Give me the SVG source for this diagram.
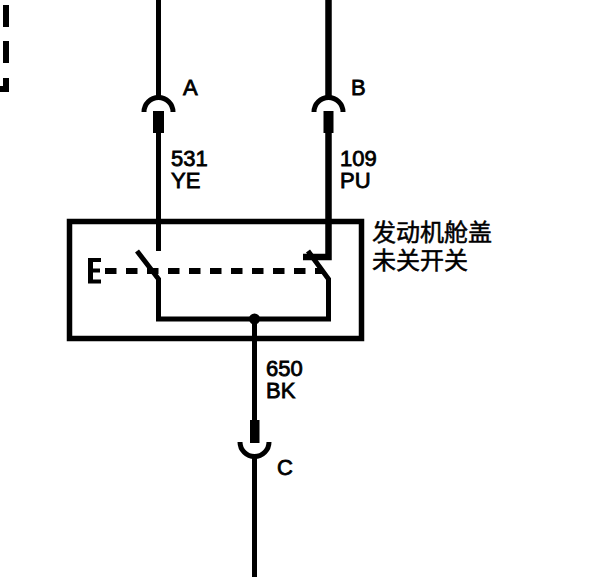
<svg xmlns="http://www.w3.org/2000/svg" width="600" height="577" viewBox="0 0 600 577">
<style>
.w{fill:none;stroke:#000;stroke-width:5}
.b{fill:#000}
.t{font-family:"Liberation Sans",Arial,sans-serif;font-size:22px;fill:#000;stroke:#000;stroke-width:.8}
.c{font-family:"Noto Sans CJK SC","Liberation Sans",sans-serif;font-size:24px;fill:#000;stroke:#000;stroke-width:.5}
</style>
<rect width="600" height="577" fill="#fff"/>
<g id="connectors">
<path class="w" d="M158.500 0V96M158.500 133V251"/>
<path class="w" style="stroke-width:6.500" d="M328.500 0V96M328.500 133V257H303"/>
<path class="w" d="M254.500 319V421M254.500 456V577"/>
<path class="w" d="M6 5V27M6 41V63" style="stroke-width:6"/>
<path class="b" d="M3 78H9V92H0V86H3Z"/>
</g>
<g id="connector-a">
<path class="w" d="M144 112A14.500 14.500 0 0 1 173 112"/>
<rect class="b" x="153" y="111" width="11" height="22"/>
<text class="t" x="183" y="95">A</text>
<text class="t"><tspan x="171" y="166">531</tspan><tspan x="171" y="188">YE</tspan></text>
</g>
<g id="connector-b">
<path class="w" d="M314 112A14.500 14.500 0 0 1 343 112"/>
<rect class="b" x="323.500" y="111" width="10" height="22"/>
<text class="t" x="351" y="95">B</text>
<text class="t"><tspan x="340" y="166">109</tspan><tspan x="340" y="188">PU</tspan></text>
</g>
<g id="switch">
<rect class="w" x="69.500" y="221.500" width="292" height="117" style="stroke-width:5.500"/>
<path class="w" d="M137 251L158.500 279V319H328.500V279L308 251"/>
<path class="w" style="stroke-width:6;stroke-dasharray:11.500 9.500" d="M105 271H323"/>
<path class="b" d="M88 258H101V262H93V268.500H100V272.500H93V279.500H101V283.500H88Z"/>
<circle class="b" cx="254.500" cy="319" r="5.500"/>
<text class="c"><tspan x="372" y="241">发动机舱盖</tspan><tspan x="372" y="269">未关开关</tspan></text>
</g>
<g id="connector-c">
<path class="w" d="M240 442A14.500 14.500 0 0 0 269 442"/>
<rect class="b" x="250" y="420" width="9.500" height="23"/>
<text class="t" x="277" y="475">C</text>
<text class="t"><tspan x="266" y="376">650</tspan><tspan x="266" y="398">BK</tspan></text>
</g>
</svg>
